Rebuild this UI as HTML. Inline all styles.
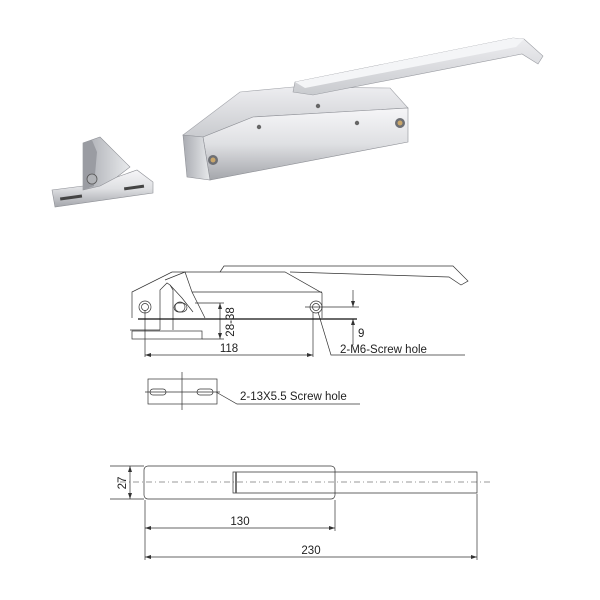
<!DOCTYPE html>
<html><head><meta charset="utf-8"><style>
html,body{margin:0;padding:0;background:#fff}
svg{display:block}
text{font-family:"Liberation Sans",sans-serif;font-size:11.5px;fill:#222}
</style></head><body>
<svg width="600" height="600" viewBox="0 0 600 600" xmlns="http://www.w3.org/2000/svg">
<defs>
<linearGradient id="g1" x1="0" y1="0" x2="0" y2="1"><stop offset="0" stop-color="#f6f6f8"/><stop offset="0.5" stop-color="#dfe0e3"/><stop offset="1" stop-color="#a4a6ab"/></linearGradient>
<linearGradient id="g2" x1="0" y1="0" x2="0" y2="1"><stop offset="0" stop-color="#ededf0"/><stop offset="1" stop-color="#c9cbcf"/></linearGradient>
<linearGradient id="g3" x1="0" y1="0" x2="1" y2="0"><stop offset="0" stop-color="#a9abb1"/><stop offset="1" stop-color="#e8eaec"/></linearGradient>
</defs>
<!-- body top -->
<polygon points="183,135 240,92 293,87 390,88 408,108 253,117 203,137" fill="url(#g2)" stroke="#a0a2a8" stroke-width="0.6"/>
<!-- handle -->
<polygon points="293,92 295,82 513,38 524,39 543,56 538,64 522,54 313,95" fill="url(#g2)" stroke="#9a9ca2" stroke-width="0.6"/>
<polygon points="295,82 513,38 524,39 516,47 305,88" fill="#f4f5f7"/>
<!-- front -->
<polygon points="203,137 253,117 408,108 408,142 210,180" fill="url(#g1)" stroke="#8e9096" stroke-width="0.6"/>
<polygon points="183,135 203,137 210,180 187,177" fill="url(#g3)" stroke="#8e9096" stroke-width="0.6"/>
<circle cx="213" cy="160" r="5" fill="#6d6f74"/><circle cx="213" cy="160" r="2.5" fill="#c9a66b"/>
<circle cx="400" cy="123" r="5" fill="#6d6f74"/><circle cx="400" cy="123" r="2.5" fill="#c9a66b"/>
<circle cx="259" cy="127" r="2.2" fill="#666"/><circle cx="318" cy="106" r="2.2" fill="#666"/><circle cx="357" cy="123" r="2.2" fill="#666"/>
<!-- small bracket -->
<polygon points="52,190 55,207 153,193 153,182 137,170 117,177 83,186" fill="url(#g1)" stroke="#8e9096" stroke-width="0.6"/>
<polygon points="83,190 83,143 100,137 130,167 117,177 100,186" fill="url(#g3)" stroke="#8e9096" stroke-width="0.6"/>
<polygon points="83,143 92,140 97,152 94,186 83,190" fill="#9a9ca2"/>
<circle cx="92" cy="179" r="5" fill="#b0b2b6" stroke="#555" stroke-width="0.8"/>
<rect x="60" y="196" width="22" height="3" fill="#444" transform="rotate(-8 71 197)"/>
<rect x="124" y="186" width="20" height="3" fill="#444" transform="rotate(-8 134 187)"/>
<!-- drawing 1 -->
<g fill="none" stroke="#333" stroke-width="0.7">
<path d="M220,272 L224,266 L453,266 L468,281 L461,285 L449,277 L290,272"/>
<path d="M132,318 L132,292 L172,272 L285,272 L322,293 L322,318"/>
<path d="M192,292 L322,292"/>
<path d="M160,330 L160,290 L167,283 L170,285 L173,290 L173,330 M160,330 L130,330"/>
<path d="M165,280 L185,272 L192,292 L205,318 M170,285 L182,298 L193,312"/>
<rect x="132" y="331" width="70" height="8"/>
<circle cx="145" cy="307" r="6"/><circle cx="145" cy="307" r="3.5"/>
<circle cx="316" cy="307" r="6"/><circle cx="316" cy="307" r="3.5"/>
<rect x="174" y="303" width="13" height="9" rx="4.5"/><circle cx="180" cy="307" r="5"/>
<path d="M195,303 L224,303 M202,339 L224,339 M220,303 L220,339"/>
<path d="M305,307 L359,307 M353,290 L353,307 M353,319 L353,345"/>
<path d="M145,310 L145,357 M313,312 L313,357 M145,355 L313,355"/>
<path d="M318,312 L331,355 L465,355"/>
<rect x="148" y="379" width="69" height="25"/>
<rect x="150" y="389" width="16" height="6" rx="3"/><rect x="197" y="389" width="16" height="6" rx="3"/>
<path d="M182,372 L182,410 M145,392 L220,392"/>
<path d="M216,392 L237,404 L360,404"/>
<!-- bottom -->
<rect x="144" y="466" width="191" height="33" rx="4"/>
<path d="M233,472 L477,472 L477,493 L233,493 Z"/>
<path d="M120,482 L492,482" stroke-dasharray="6,3,1,3" stroke-width="0.5"/>
<path d="M110,466 L144,466 M110,499 L144,499 M130,466 L130,499"/>
<path d="M145,500 L145,560 M335,500 L335,531 M477,494 L477,560 M145,528 L335,528 M145,557 L477,557"/>
</g>
<path d="M138,319 L357,319" stroke="#111" stroke-width="1.3"/>
<path d="M236,472 L236,493" stroke="#555" stroke-width="1.6"/>
<g fill="#333">
<polygon points="220,303 218,309 222,309"/><polygon points="220,339 218,333 222,333"/>
<polygon points="353,307 351,301 355,301"/><polygon points="353,319 351,325 355,325"/>
<polygon points="145,355 151,353 151,357"/><polygon points="313,355 307,353 307,357"/>
<polygon points="130,466 128,472 132,472"/><polygon points="130,499 128,493 132,493"/>
<polygon points="145,528 151,526 151,530"/><polygon points="335,528 329,526 329,530"/>
<polygon points="145,557 151,555 151,559"/><polygon points="477,557 471,555 471,559"/>
</g>
<text transform="translate(234,322) rotate(-90)" text-anchor="middle">28-38</text>
<text x="358" y="337">9</text>
<text x="229" y="352" text-anchor="middle">118</text>
<text x="340" y="353">2-M6-Screw hole</text>
<text x="240" y="400">2-13X5.5 Screw hole</text>
<text transform="translate(126,483) rotate(-90)" text-anchor="middle">27</text>
<text x="240" y="525" text-anchor="middle">130</text>
<text x="311" y="554" text-anchor="middle">230</text>
</svg>
</body></html>
